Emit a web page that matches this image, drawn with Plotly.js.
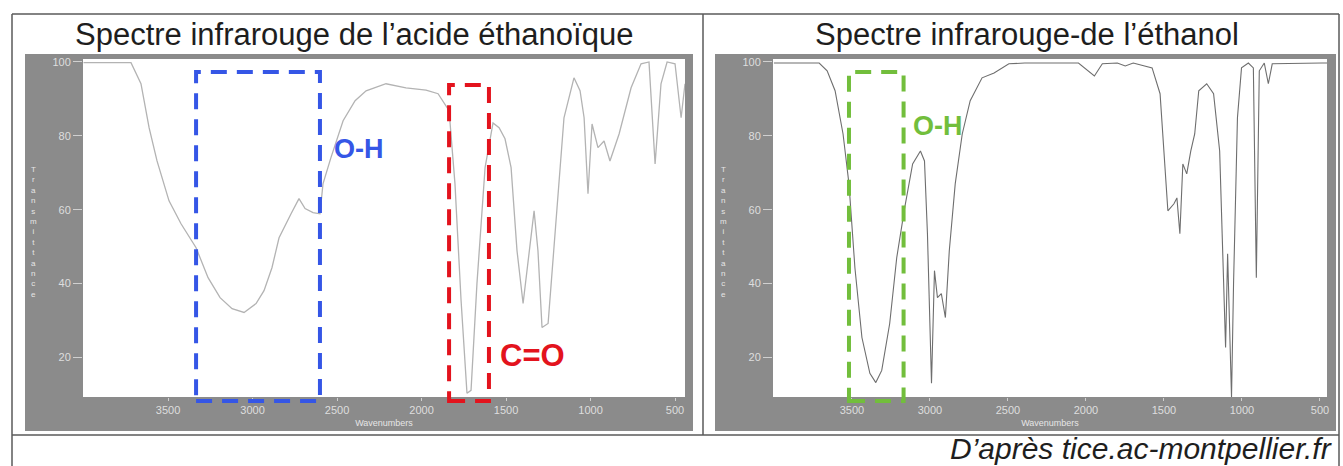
<!DOCTYPE html>
<html>
<head>
<meta charset="utf-8">
<script src="https://cdn.plot.ly/plotly-3.0.1.min.js"></script>
<style>html,body{margin:0;padding:0;background:#fff;}#chart{width:1343px;height:466px;}</style>
</head>
<body>
<div id="chart"></div>
<script>
// ---- Data ----
const titleLeft = "Spectre infrarouge de l’acide éthanoïque";
const titleRight = "Spectre infrarouge-de l’éthanol";
const footer = "D’après tice.ac-montpellier.fr";
const xTitle = "Wavenumbers";
const yTitle = "Transmittance";

const xTickVals = [3500, 3000, 2500, 2000, 1500, 1000, 500];
const xTickText = ["3500", "3000", "2500", "2000", "1500", "1000", "500"];
const yTickVals = [20, 40, 60, 80, 100];
const yTickText = ["20", "40", "60", "80", "100"];

// Acide éthanoïque (wavenumber cm-1, transmittance %)
const wnAcid = [4000, 3719, 3660, 3612, 3565, 3494, 3423, 3334, 3263, 3192, 3121, 3050, 2979, 2932, 2885,
  2843, 2772, 2725, 2689, 2642, 2601, 2583, 2536, 2464, 2393, 2328, 2210, 2092, 1973, 1902,
  1837, 1802, 1766, 1731, 1707, 1672, 1624, 1577, 1541, 1506, 1470, 1435, 1399, 1370, 1334,
  1311, 1287, 1251, 1204, 1157, 1098, 1062, 1038, 1015, 991, 956, 920, 885, 831, 760,
  701, 654, 618, 583, 547, 500, 464, 441];
const tAcid = [99.8, 99.8, 94.1, 82.2, 73.2, 62.4, 56.2, 49.7, 41.6, 36.2, 33.2, 32.2, 34.6, 38.1, 44.3,
  52.4, 58.9, 63.0, 60.3, 59.2, 58.9, 67.0, 74.1, 84.1, 89.5, 92.2, 94.1, 93.0, 92.4, 91.4,
  86.8, 67.0, 35.4, 10.3, 11.1, 40.0, 71.4, 83.5, 82.2, 79.2, 71.4, 48.9, 34.6, 45.4, 59.7,
  48.9, 28.1, 29.2, 57.8, 84.9, 95.7, 92.2, 84.9, 64.3, 83.2, 76.8, 78.6, 73.2, 80.5, 93.0,
  99.5, 100, 72.4, 94.1, 100, 99.5, 84.9, 94.1];

// Éthanol
const wnEth = [4000, 3710, 3659, 3608, 3557, 3519, 3481, 3436, 3385, 3347, 3309, 3258, 3213, 3162, 3111,
  3061, 3035, 3016, 2990, 2971, 2952, 2927, 2901, 2876, 2838, 2793, 2742, 2666, 2589, 2545,
  2494, 2392, 2048, 1946, 1895, 1799, 1748, 1697, 1576, 1525, 1500, 1475, 1436, 1417, 1398,
  1379, 1354, 1328, 1303, 1277, 1226, 1182, 1143, 1118, 1105, 1092, 1080, 1067, 1054, 1029,
  1003, 959, 927, 908, 889, 857, 831, 806, 487, 455];
const tEth = [99.7, 99.7, 97.6, 92.2, 80.5, 67.0, 44.3, 25.4, 15.7, 13.2, 16.5, 29.2, 47.0, 60.5, 72.4,
  75.9, 73.2, 53.5, 13.0, 43.5, 36.2, 37.3, 30.8, 48.9, 67.0, 80.5, 89.5, 95.7, 97.0, 98.1,
  99.5, 99.7, 99.7, 96.2, 99.5, 99.7, 98.9, 99.7, 98.4, 91.4, 75.9, 59.7, 61.6, 63.2, 53.5,
  72.4, 69.7, 75.9, 80.5, 92.2, 94.1, 91.4, 75.9, 40.0, 22.7, 48.1, 30.8, 9.2, 40.0, 84.9,
  98.4, 99.7, 98.4, 41.6, 97.6, 99.7, 94.1, 99.5, 99.7, 99.7];

// ---- Layout helpers (pixel -> paper) ----
const W = 1343, H = 466;
const px = x => x / W;
const py = y => 1 - y / H;

const grayPanel = "#8b8b8b";
const tickFont = {family: "Liberation Sans, Arial, sans-serif", size: 11, color: "#dedede"};
const frameColor = "#5a5a5a";

function xAxis(domain, range, anchor) {
  return {
    domain: domain, range: range, anchor: anchor,
    tickmode: "array", tickvals: xTickVals, ticktext: xTickText,
    ticks: "outside", ticklen: 3, tickcolor: "#d0d0d0", tickfont: tickFont,
    showgrid: false, zeroline: false, showline: false,
    title: {text: xTitle, font: {family: "Liberation Sans, Arial, sans-serif", size: 9, color: "#e6e6e6"}, standoff: 4}
  };
}
function yAxis(anchor) {
  return {
    domain: [py(397), py(59)], range: [9.3, 100.8], anchor: anchor,
    tickmode: "array", tickvals: yTickVals, ticktext: yTickText,
    ticks: "outside", ticklen: 9, tickcolor: "#d0d0d0", tickfont: tickFont,
    showgrid: false, zeroline: false, showline: false
  };
}

const traces = [
  {x: wnAcid, y: tAcid, xaxis: "x", yaxis: "y", type: "scatter", mode: "lines",
   line: {color: "#b3b3b3", width: 1.3}, hoverinfo: "x+y", name: "acide éthanoïque"},
  {x: wnEth, y: tEth, xaxis: "x2", yaxis: "y2", type: "scatter", mode: "lines",
   line: {color: "#6e6e6e", width: 1.1}, hoverinfo: "x+y", name: "éthanol"}
];

const stacked = yTitle.split("").join("<br>");

const shapes = [
  // gray instrument panels
  {type: "rect", xref: "paper", yref: "paper", x0: px(25), x1: px(693), y0: py(431), y1: py(54),
   fillcolor: grayPanel, line: {width: 0}, layer: "below"},
  {type: "rect", xref: "paper", yref: "paper", x0: px(715), x1: px(1336), y0: py(431), y1: py(54),
   fillcolor: grayPanel, line: {width: 0}, layer: "below"},
  // white plotting areas
  {type: "rect", xref: "x domain", yref: "y domain", x0: 0, x1: 1, y0: 0, y1: 1,
   fillcolor: "#ffffff", line: {width: 0}, layer: "below"},
  {type: "rect", xref: "x2 domain", yref: "y2 domain", x0: 0, x1: 1, y0: 0, y1: 1,
   fillcolor: "#ffffff", line: {width: 0}, layer: "below"},
  // table frame
  {type: "line", xref: "paper", yref: "paper", x0: px(12), x1: px(1339), y0: py(14), y1: py(14), line: {color: frameColor, width: 1.5}},
  {type: "line", xref: "paper", yref: "paper", x0: px(12), x1: px(1339), y0: py(435), y1: py(435), line: {color: frameColor, width: 1.5}},
  {type: "line", xref: "paper", yref: "paper", x0: px(12), x1: px(12), y0: py(14), y1: py(466), line: {color: frameColor, width: 1.5}},
  {type: "line", xref: "paper", yref: "paper", x0: px(1339), x1: px(1339), y0: py(14), y1: py(466), line: {color: frameColor, width: 1.5}},
  {type: "line", xref: "paper", yref: "paper", x0: px(703), x1: px(703), y0: py(14), y1: py(435), line: {color: frameColor, width: 1.5}},
  // highlight boxes (x in wavenumbers, y in page position so the bottom edge passes below the axis)
  {type: "rect", xref: "x", yref: "paper", x0: 3334, x1: 2601, y0: py(401), y1: py(72),
   line: {color: "#3556e6", width: 4, dash: "16px,10px"}, fillcolor: "rgba(0,0,0,0)", layer: "above"},
  {type: "rect", xref: "x", yref: "paper", x0: 1837, x1: 1601, y0: py(401), y1: py(85),
   line: {color: "#e3131d", width: 4, dash: "16px,10px"}, fillcolor: "rgba(0,0,0,0)", layer: "above"},
  {type: "rect", xref: "x2", yref: "paper", x0: 3519, x1: 3169, y0: py(401), y1: py(72),
   line: {color: "#72be3c", width: 4, dash: "16px,10px"}, fillcolor: "rgba(0,0,0,0)", layer: "above"}
];

const titleFont = {family: "Liberation Sans, Arial, sans-serif", size: 31, color: "#1e1e1e"};
const annotations = [
  {xref: "paper", yref: "paper", x: px(354), y: py(34), text: titleLeft, showarrow: false, font: titleFont, xanchor: "center", yanchor: "middle"},
  {xref: "paper", yref: "paper", x: px(1027), y: py(34), text: titleRight, showarrow: false, font: titleFont, xanchor: "center", yanchor: "middle"},
  {xref: "paper", yref: "paper", x: px(1334), y: py(448), text: "<i>" + footer + "</i>", showarrow: false,
   font: {family: "Liberation Sans, Arial, sans-serif", size: 30, color: "#1e1e1e"}, xanchor: "right", yanchor: "middle"},
  {xref: "x", yref: "y", x: 2370, y: 76.5, text: "<b>O-H</b>", showarrow: false,
   font: {family: "Liberation Sans, Arial, sans-serif", size: 27, color: "#3556e6"}},
  {xref: "x", yref: "y", x: 1346, y: 20.5, text: "<b>C=O</b>", showarrow: false,
   font: {family: "Liberation Sans, Arial, sans-serif", size: 31, color: "#e3131d"}},
  {xref: "x2", yref: "y2", x: 2946, y: 82.7, text: "<b>O-H</b>", showarrow: false,
   font: {family: "Liberation Sans, Arial, sans-serif", size: 27, color: "#72be3c"}},
  {xref: "paper", yref: "paper", x: px(33), y: py(232), text: stacked, showarrow: false,
   font: {family: "Liberation Sans, Arial, sans-serif", size: 8, color: "#e6e6e6"}, xanchor: "center", yanchor: "middle"},
  {xref: "paper", yref: "paper", x: px(723), y: py(232), text: stacked, showarrow: false,
   font: {family: "Liberation Sans, Arial, sans-serif", size: 8, color: "#e6e6e6"}, xanchor: "center", yanchor: "middle"}
];

const layout = {
  width: W, height: H,
  margin: {l: 0, r: 0, t: 0, b: 0, pad: 0},
  paper_bgcolor: "#ffffff", plot_bgcolor: "rgba(0,0,0,0)",
  showlegend: false,
  xaxis: xAxis([px(83), px(685)], [4003, 441], "y"),
  yaxis: yAxis("x"),
  xaxis2: xAxis([px(773), px(1327)], [4006, 455], "y2"),
  yaxis2: yAxis("x2"),
  shapes: shapes,
  annotations: annotations
};

Plotly.newPlot("chart", traces, layout, {displayModeBar: false, staticPlot: true});
</script>
</body>
</html>
